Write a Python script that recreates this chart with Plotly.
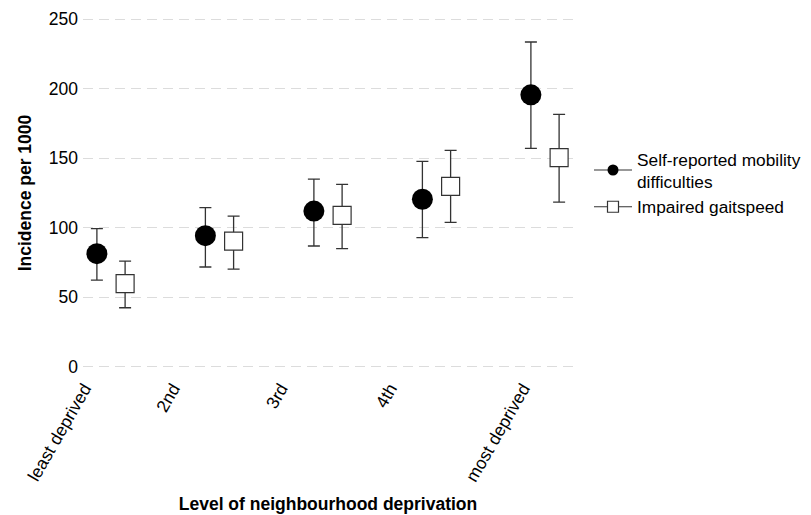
import plotly.graph_objects as go
import numpy as np

categories = ["least deprived", "2nd", "3rd", "4th", "most deprived"]
tick_pos = [0.755, 1.571, 2.566, 3.571, 4.797]

self_val = [81.4, 94.3, 112.0, 120.5, 195.6]
self_lo = [62.3, 71.8, 86.9, 92.9, 157.1]
self_hi = [99.4, 114.5, 135.0, 147.8, 233.6]

gait_val = [59.8, 90.4, 108.9, 129.7, 150.5]
gait_lo = [42.5, 70.2, 85.0, 103.9, 118.5]
gait_hi = [76.0, 108.4, 131.2, 155.7, 181.5]

series_names = ["Self-reported mobility<br>difficulties", "Impaired gaitspeed"]
yticks = [0, 50, 100, 150, 200, 250]

idx = np.arange(1, len(categories) + 1)
off = 0.13
ecol = "#333333"

fig = go.Figure()

def err(v, lo, hi):
    v, lo, hi = map(np.array, (v, lo, hi))
    return dict(type="data", symmetric=False, array=hi - v, arrayminus=v - lo,
                color=ecol, thickness=1.3, width=6)

fig.add_trace(go.Scatter(
    x=idx - off, y=self_val, mode="markers", showlegend=False,
    marker=dict(symbol="circle", size=21, color="black", line=dict(width=0)),
    error_y=err(self_val, self_lo, self_hi)))
fig.add_trace(go.Scatter(
    x=idx + off, y=gait_val, mode="markers", showlegend=False,
    marker=dict(symbol="square", size=18, color="white", line=dict(width=1.2, color=ecol)),
    error_y=err(gait_val, gait_lo, gait_hi)))

# legend entries
fig.add_trace(go.Scatter(
    x=[None], y=[None], mode="lines+markers", name=series_names[0],
    line=dict(color=ecol, width=1.2),
    marker=dict(symbol="circle", size=11, color="black")))
fig.add_trace(go.Scatter(
    x=[None], y=[None], mode="lines+markers", name=series_names[1],
    line=dict(color=ecol, width=1.2),
    marker=dict(symbol="square", size=11, color="white", line=dict(width=1.2, color=ecol))))

font_family = "Liberation Sans, Arial, Helvetica, sans-serif"
FS = 17.5

fig.update_layout(
    width=811, height=515,
    margin=dict(l=75, r=246, t=6.5, b=152),
    paper_bgcolor="white", plot_bgcolor="white",
    font=dict(family=font_family, size=FS, color="black"),
    xaxis=dict(
        range=[0.742, 5.258], tickvals=tick_pos, ticktext=categories,
        tickangle=-60, showgrid=False, zeroline=False, showline=False,
        ticks="", tickfont=dict(size=FS), automargin=False, ticklabelstandoff=3,
        title=dict(text="<b>Level of neighbourhood deprivation</b>", font=dict(size=FS), standoff=13),
    ),
    yaxis=dict(
        range=[-3, 253], tickvals=yticks, showgrid=True, gridcolor="#dcdcdc",
        griddash="10px,6px", gridwidth=1, zeroline=False, showline=False,
        ticks="", tickfont=dict(size=FS), ticklabelstandoff=4, automargin=False,
        title=dict(text="<b>Incidence per 1000</b>", font=dict(size=FS), standoff=12),
    ),
    legend=dict(xref="container", yref="container", x=581/811, y=1 - 133/515,
                xanchor="left", yanchor="top", font=dict(size=17.3), itemwidth=38,
                bgcolor="rgba(0,0,0,0)", tracegroupgap=6),
)

fig.write_html("out.html")
